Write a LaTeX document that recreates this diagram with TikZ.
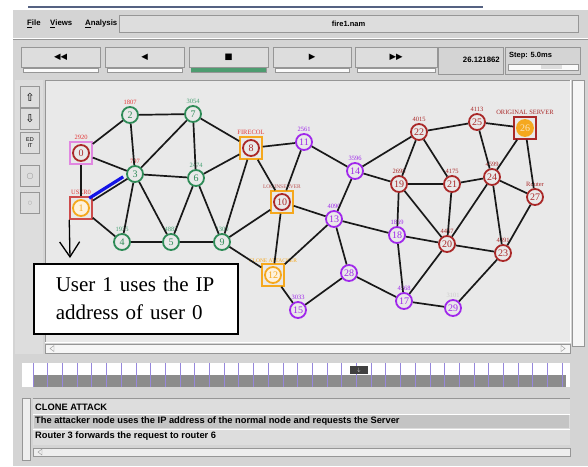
\documentclass[tikz,border=0pt]{standalone}
\usepackage{fontspec}
\setmainfont{Liberation Serif}
\newfontfamily\uifont{Liberation Sans}
\newfontfamily\symfont{DejaVu Sans}
\usetikzlibrary{positioning, calc, arrows.meta}

\definecolor{winbg}{RGB}{212,212,212}
\definecolor{canvasbg}{RGB}{233,233,233}
\definecolor{btnface}{RGB}{221,221,221}
\definecolor{edgegray}{RGB}{150,150,150}
\definecolor{slate}{RGB}{85,98,130}
\definecolor{seagrn}{RGB}{46,139,87}
\definecolor{tagseagrn}{RGB}{70,160,115}
\definecolor{brick}{RGB}{170,40,40}
\definecolor{lilac}{RGB}{160,40,235}
\definecolor{amber}{RGB}{245,168,30}
\definecolor{tagred}{RGB}{228,55,55}
\definecolor{orchidbox}{RGB}{225,135,225}
\definecolor{boxred}{RGB}{205,75,75}
\definecolor{tickc}{RGB}{150,135,220}
\definecolor{rowhi}{RGB}{196,196,196}
\definecolor{pktblue}{RGB}{20,20,230}

\tikzset{
  ui/.style={font=\uifont\bfseries\fontsize{9.3}{10}\selectfont, inner sep=0pt},
  menu/.style={font=\uifont\bfseries\fontsize{7.8}{8}\selectfont, inner sep=0pt},
  btn/.style={draw=edgegray, fill=btnface, minimum height=20, inner sep=0pt},
  sunk/.style={draw=edgegray, fill=winbg, inner sep=0pt},
  tool/.style={draw=edgegray, fill=btnface, minimum width=19, minimum height=21, inner sep=0pt},
  nd/.style={circle, draw=#1, fill=canvasbg, text=#1, line width=1.8pt, minimum size=16,
    inner sep=0pt, font=\fontsize{10}{10}\selectfont},
  sq/.style={rectangle, draw=#1, line width=1.5pt, minimum size=22, inner sep=0pt},
  tag/.style={font=\fontsize{6.5}{6.5}\selectfont, text=#1, inner sep=1pt},
  link/.style={line width=1.7pt, black!90},
}

\begin{document}
\begin{tikzpicture}[x=1pt, y=-1pt]
\useasboundingbox[fill=white] (0,0) rectangle (588,466);

% window frame
\fill[winbg] (13,10) rectangle (588,466);
\draw[line width=1.5pt, slate] (28,7) -- (483,7);

% menu bar and file name
\node[menu, anchor=west] (mfile) at (27,24) {\underline{F}ile};
\node[menu, anchor=west] (mviews) at (50,24) {\underline{V}iews};
\node[menu, anchor=west] (manalysis) at (85,24) {\underline{A}nalysis};
\node[sunk, fill=btnface, minimum width=459, minimum height=17,
  font=\uifont\bfseries\fontsize{7.5}{8}\selectfont] (title) at (348.5,24) {fire1.nam};
\draw[white] (13,38) -- (588,38);
\draw[edgegray] (13,39) -- (588,39);

% transport buttons
\foreach \i/\xa/\xb/\ic in {1/21/100/{◀◀}, 2/105/184/◀, 3/189/268/■, 4/273/351/▶, 5/355/437/{▶▶}} {
  \node[btn, minimum width={\xb-\xa}, anchor=north west,
    font=\symfont\fontsize{8.5}{8.5}\selectfont] (b\i) at (\xa,47) {\ic};
  \draw[edgegray, fill=white!85!btnface] (\xa+2,68) rectangle (\xb-2,72);
}
\fill[seagrn!85] (191,68) rectangle (266,72);

% clock and step
\node[sunk, minimum width=65, minimum height=27, anchor=north west] (clock) at (438,47) {};
\node[menu, anchor=east] (time) at (500,60) {26.121862};
\node[sunk, minimum width=75, minimum height=27, anchor=north west] (stepbox) at (505,47) {};
\node[menu, anchor=west, font=\uifont\bfseries\fontsize{7.5}{8}\selectfont] (steptext) at (509,56) {Step: 5.0ms};
\draw[edgegray, fill=white!85!btnface] (508,64) rectangle (578,70);
\fill[btnface] (541,65) rectangle (562,69);

% tool column
\fill[btnface] (15,80) rectangle (43,354);
\node[tool, font=\symfont\fontsize{11}{11}\selectfont] (tup) at (30,97) {⇧};
\node[tool, font=\symfont\fontsize{11}{11}\selectfont] (tdown) at (30,119) {⇩};
\node[tool, align=center, font=\uifont\fontsize{5.5}{6}\selectfont] (tedit) at (30,143) {ED\\IT};
\node[tool, text=edgegray, font=\symfont\fontsize{8}{8}\selectfont] (tcirc) at (30,176) {○};
\node[tool, text=edgegray, font=\symfont\fontsize{5}{5}\selectfont] (tdot) at (30,203) {○};

% canvas with scroll bars
\fill[canvasbg] (45,80) rectangle (570,342);
\draw[edgegray] (45,342) -- (45,80) -- (570,80);
\draw[white] (45,342) -- (570,342) -- (570,80);
\draw[edgegray, fill=white!60!canvasbg] (572,80) rectangle (584,346);
\draw[edgegray, fill=white!60!canvasbg] (45,344) rectangle (570,353);
\draw[edgegray] (50,348.5) -- (54,345.5) -- (54,351.5) -- cycle;
\draw[edgegray] (565,348.5) -- (561,345.5) -- (561,351.5) -- cycle;

% network nodes
\node[sq=orchidbox, label={[tag=tagred]above:2920}] (n0) at (81,153) {};
\node[nd=brick] (c0) at (n0) {0};
\node[sq=boxred, label={[tag=tagred]above:USER0}] (n1) at (81,208) {};
\node[nd=amber, fill=amber!15] (c1) at (n1) {1};
\node[nd=seagrn, label={[tag=tagred]above:1807}] (n2) at (130,115) {2};
\node[nd=seagrn, label={[tag=tagred]above:797}] (n3) at (135,174) {3};
\node[nd=seagrn, label={[tag=tagseagrn]above:1935}] (n4) at (122,242) {4};
\node[nd=seagrn, label={[tag=tagseagrn]above:4882}] (n5) at (171,242) {5};
\node[nd=seagrn, label={[tag=tagseagrn]above:2474}] (n6) at (196,178) {6};
\node[nd=seagrn, label={[tag=tagseagrn]above:3054}] (n7) at (193,114) {7};
\node[sq=amber, label={[tag=tagred]above:FIRECOL}] (n8) at (251,148) {};
\node[nd=brick] (c8) at (n8) {8};
\node[nd=seagrn, label={[tag=tagseagrn]above:1300}] (n9) at (222,242) {9};
\node[sq=amber, label={[tag=brick!80, font=\fontsize{5.5}{6}\selectfont]above:LOGINSERVER}] (n10) at (282,202) {};
\node[nd=brick] (c10) at (n10) {10};
\node[nd=lilac, label={[tag=lilac]above:2561}] (n11) at (304,142) {11};
\node[sq=amber, label={[tag=amber, font=\fontsize{5.5}{6}\selectfont]above:CLONE ATTACKER}] (n12) at (273,275) {};
\node[nd=amber, fill=amber!15] (c12) at (n12) {12};
\node[nd=lilac, label={[tag=lilac]above:4090}] (n13) at (334,219) {13};
\node[nd=lilac, label={[tag=lilac]above:3596}] (n14) at (355,171) {14};
\node[nd=lilac, label={[tag=lilac]above:3033}] (n15) at (298,310) {15};
\node[nd=lilac, label={[tag=lilac]above:4568}] (n17) at (404,301) {17};
\node[nd=lilac, label={[tag=lilac]above:1869}] (n18) at (397,235) {18};
\node[nd=brick, label={[tag=brick]above:2698}] (n19) at (399,184) {19};
\node[nd=brick, label={[tag=brick]above:4467}] (n20) at (447,244) {20};
\node[nd=brick, label={[tag=brick]above:4175}] (n21) at (452,184) {21};
\node[nd=brick, label={[tag=brick]above:4015}] (n22) at (419,132) {22};
\node[nd=brick, label={[tag=brick]above:4491}] (n23) at (503,253) {23};
\node[nd=brick, label={[tag=brick]above:4599}] (n24) at (492,177) {24};
\node[nd=brick, label={[tag=brick]above:4113}] (n25) at (477,122) {25};
\node[sq=brick, label={[tag=brick]above:ORIGINAL SERVER}] (n26) at (525,128) {};
\node[nd=amber, fill=amber, text=amber!30] (c26) at (n26) {26};
\node[nd=brick, label={[tag=brick]above:Router}] (n27) at (535,197) {27};
\node[nd=lilac] (n28) at (349,273) {28};
\node[nd=lilac, label={[tag=black!20]above:3101}] (n29) at (453,308) {29};

% links
\foreach \a/\b in {0/1, 0/2, 0/3, 1/3, 1/4, 2/3, 2/7, 3/7, 3/6, 3/4, 3/5, 7/6, 7/8,
    6/8, 6/5, 6/9, 4/5, 5/9, 8/9, 8/10, 8/11, 9/10, 9/12, 10/11, 10/12, 10/13,
    11/14, 12/13, 12/15, 13/14, 13/18, 13/28, 14/22, 14/19, 15/28, 28/17, 18/17,
    18/20, 17/20, 17/29, 19/22, 19/21, 19/20, 19/18, 22/21, 22/25, 25/26, 25/24,
    21/24, 21/20, 24/26, 24/27, 24/20, 24/23, 26/27, 27/23, 20/23, 29/23}
  \draw[link] (n\a) -- (n\b);

% packet on the link 1-3
\draw[pktblue, line width=3.2pt] ([shift={(-1,-4)}]$(n1.center)!0.17!(n3.center)$)
  -- ([shift={(-1,-4)}]$(n1.center)!0.8!(n3.center)$);

% callout
\coordinate (tip) at (70,258);
\draw[line width=1.3pt, -{Straight Barb[length=15pt, width=20pt]}] (n1.south west) -- (tip);
\node[draw, line width=1.5pt, fill=white, anchor=north west, minimum height=70,
  text width=160, inner xsep=22, align=left,
  font=\fontsize{21}{28}\selectfont] (note) at (33,263) {User 1 uses the IP\\address of user 0};

% time line
\fill[white] (22,363) rectangle (570,387);
\fill[black!45] (33,375) rectangle (566,387);
\foreach \k in {0,...,36}
  \draw[tickc, line width=0.8pt] (33+\k*14.7,363) -- (33+\k*14.7,387);
\node[fill=black!75, text=white, minimum width=18, minimum height=8, inner sep=0pt,
  font=\uifont\fontsize{5}{5}\selectfont] (mark) at (359,370) {$\downarrow$};

% annotation list
\draw[edgegray, fill=white!60!winbg] (22,398) rectangle (30,460);
\fill[btnface] (33,398) rectangle (570,445);
\fill[rowhi] (34,414) rectangle (569,428);
\draw[edgegray] (33,398) -- (570,398);
\draw[white] (33,414) -- (570,414) (33,429) -- (570,429);
\node[ui, anchor=west] (r1) at (35,407) {CLONE ATTACK};
\node[ui, anchor=west] (r2) at (35,421) {The attacker node uses the IP address of the normal node and requests the Server};
\node[ui, anchor=west] (r3) at (35,436) {Router 3 forwards the request to router 6};
\draw[edgegray, fill=white!60!winbg] (33,448) rectangle (570,456);
\draw[edgegray] (38,452) -- (42,449) -- (42,455) -- cycle;
\end{tikzpicture}
\end{document}
